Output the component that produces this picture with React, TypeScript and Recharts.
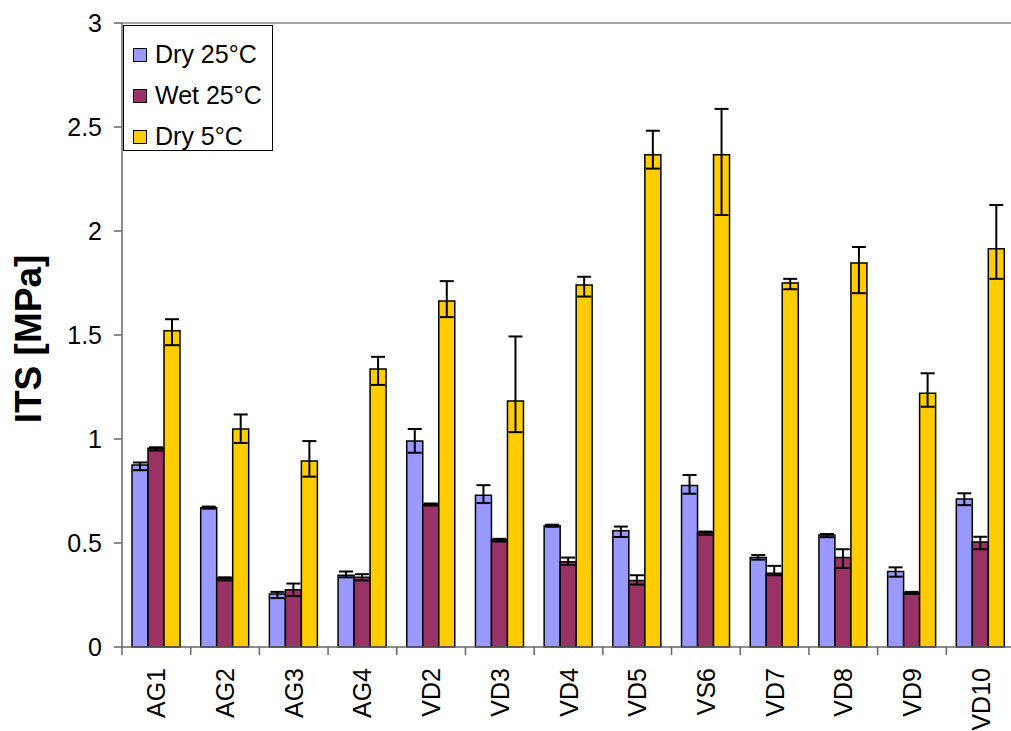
import React from 'react';
import { BarChart, Bar, XAxis, YAxis, ErrorBar, ReferenceLine, Legend } from 'recharts';

const categories = ['AG1', 'AG2', 'AG3', 'AG4', 'VD2', 'VD3', 'VD4', 'VD5', 'VS6', 'VD7', 'VD8', 'VD9', 'VD10'];

// Dry 25°C
const dry25 = [0.875, 0.67, 0.255, 0.345, 0.99, 0.73, 0.583, 0.559, 0.777, 0.43, 0.538, 0.363, 0.712];
const dry25Low = [0.025, 0.005, 0.02, 0.01, 0.056, 0.038, 0.005, 0.03, 0.04, 0.01, 0.01, 0.025, 0.03];
const dry25High = [0.012, 0.005, 0.01, 0.018, 0.058, 0.048, 0.005, 0.02, 0.05, 0.012, 0.005, 0.02, 0.027];

// Wet 25°C
const wet25 = [0.955, 0.33, 0.275, 0.335, 0.685, 0.515, 0.41, 0.32, 0.55, 0.355, 0.43, 0.26, 0.505];
const wet25Low = [0.01, 0.01, 0.03, 0.015, 0.005, 0.008, 0.015, 0.02, 0.01, 0.01, 0.05, 0.005, 0.035];
const wet25High = [0.005, 0.005, 0.03, 0.015, 0.005, 0.005, 0.02, 0.025, 0.005, 0.035, 0.04, 0.005, 0.025];

// Dry 5°C
const dry5 = [1.521, 1.048, 0.894, 1.337, 1.663, 1.183, 1.74, 2.367, 2.367, 1.75, 1.846, 1.22, 1.915];
const dry5Low = [0.07, 0.067, 0.075, 0.077, 0.077, 0.15, 0.055, 0.067, 0.29, 0.03, 0.145, 0.065, 0.145];
const dry5High = [0.055, 0.07, 0.096, 0.058, 0.096, 0.31, 0.04, 0.115, 0.22, 0.02, 0.077, 0.096, 0.21];

const yTicks = [0, 0.5, 1, 1.5, 2, 2.5, 3];

const series = [
  { key: 'dry25', name: 'Dry 25°C', color: '#9999FF' },
  { key: 'wet25', name: 'Wet 25°C', color: '#993366' },
  { key: 'dry5', name: 'Dry 5°C', color: '#FFCC00' },
];

const data = categories.map((cat, i) => ({
  cat,
  dry25: dry25[i],
  dry25Err: [dry25Low[i], dry25High[i]],
  wet25: wet25[i],
  wet25Err: [wet25Low[i], wet25High[i]],
  dry5: dry5[i],
  dry5Err: [dry5Low[i], dry5High[i]],
}));

const FONT = '"Liberation Sans", Arial, sans-serif';
const LABEL_GAP = 21;
const TICK_LEN = 8;

// category label plus tick marks on the category boundaries (Excel style)
const XTick = (props: any) => {
  const { x, y, payload, index, width } = props;
  const half = payload.offset ?? (width ? width / categories.length / 2 : 34);
  const axisY = y - LABEL_GAP;
  const isLast = index === categories.length - 1;
  return (
    <g>
      <line x1={x - half} x2={x - half} y1={axisY} y2={axisY + TICK_LEN} stroke="#666" strokeWidth={1.5} />
      {isLast && (
        <line x1={x + half} x2={x + half} y1={axisY} y2={axisY + TICK_LEN} stroke="#666" strokeWidth={1.5} />
      )}
      <text
        x={x}
        y={y}
        transform={`rotate(-90, ${x}, ${y})`}
        textAnchor="end"
        dominantBaseline="central"
        fontSize={25}
        fontFamily={FONT}
        fill="#000"
      >
        {payload.value}
      </text>
    </g>
  );
};

const YLabel = (props: any) => {
  const vb = props.viewBox || { y: 23, height: 624 };
  const cy = vb.y + vb.height / 2 + 4;
  return (
    <text
      x={41}
      y={cy}
      transform={`rotate(-90, 41, ${cy})`}
      textAnchor="middle"
      fontSize={37}
      fontWeight="bold"
      fontFamily={FONT}
      fill="#000"
    >
      ITS [MPa]
    </text>
  );
};

const LegendBox = () => (
  <div
    style={{
      border: '1px solid #000',
      background: '#fff',
      width: 150,
      height: 126,
      boxSizing: 'border-box',
      padding: '8px 0 0 9px',
      fontFamily: FONT,
      fontSize: 25,
      color: '#000',
    }}
  >
    {series.map((s) => (
      <div key={s.key} style={{ display: 'flex', alignItems: 'center', height: 41 }}>
        <span
          style={{
            display: 'inline-block',
            width: 12,
            height: 12,
            background: s.color,
            border: '1.5px solid #000',
            marginRight: 8,
          }}
        />
        <span>{s.name}</span>
      </div>
    ))}
  </div>
);

export default function App() {
  return (
    <div style={{ position: 'absolute', left: 0, top: 0, width: 1011, height: 731, overflow: 'hidden', background: '#fff' }}>
      <BarChart
        width={1015}
        height={731}
        data={data}
        margin={{ top: 23, right: 0, left: 0, bottom: 0 }}
        barGap={0}
        barSize={16}
      >
        <XAxis
          dataKey="cat"
          height={84}
          interval={0}
          tickLine={false}
          tickSize={0}
          tickMargin={LABEL_GAP}
          axisLine={{ stroke: '#666', strokeWidth: 1.5 }}
          tick={<XTick />}
        />
        <YAxis
          domain={[0, 3]}
          ticks={yTicks}
          width={122}
          interval={0}
          tickSize={8}
          tickMargin={12}
          axisLine={{ stroke: '#666', strokeWidth: 1.5 }}
          tickLine={{ stroke: '#666', strokeWidth: 1.5 }}
          tick={{ fontSize: 25, fontFamily: FONT, fill: '#000' }}
          label={<YLabel />}
        />
        <ReferenceLine y={3} stroke="#888" strokeWidth={1.5} />
        {series.map((s) => (
          <Bar
            key={s.key}
            dataKey={s.key}
            name={s.name}
            fill={s.color}
            stroke="#000"
            strokeWidth={1.5}
            isAnimationActive={false}
          >
            <ErrorBar dataKey={`${s.key}Err`} width={7} stroke="#000" strokeWidth={2} direction="y" />
          </Bar>
        ))}
        <Legend
          layout="vertical"
          align="center"
          verticalAlign="middle"
          content={<LegendBox />}
          wrapperStyle={{ position: 'absolute', left: 123, top: 25, width: 150, height: 126 }}
        />
      </BarChart>
    </div>
  );
}
